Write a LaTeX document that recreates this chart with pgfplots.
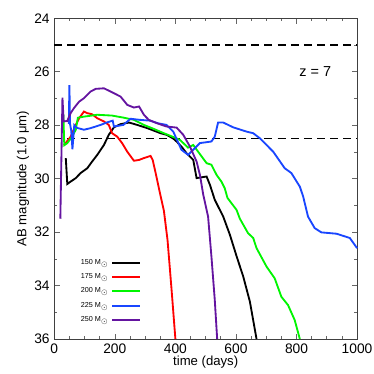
\documentclass[border=0pt]{standalone}
\usepackage{pgfplots}
\pgfplotsset{compat=1.18}
\usepackage{fontspec}
\setmainfont{Liberation Sans}

\definecolor{cgreen}{RGB}{0,245,0}
\definecolor{cblue}{RGB}{25,70,255}
\definecolor{cpurple}{RGB}{100,20,160}

\begin{document}
\begin{tikzpicture}
  \begin{axis}[
    scale only axis,
    width=8.10cm, height=8.58cm,
    xmin=0, xmax=1000,
    ymin=24, ymax=36,
    y dir=reverse,
    xtick={0,200,...,1000},
    ytick={24,26,...,36},
    minor x tick num=3,
    minor y tick num=1,
    tick pos=both,
    tick align=inside,
    major tick length=0.14cm,
    minor tick length=0.08cm,
    axis line style={black!75, line width=0.5pt},
    every tick/.style={black!60, line width=0.5pt},
    /pgf/number format/assume math mode=true,
    /pgf/number format/1000 sep={},
    tick label style={font=\fontsize{10.5}{12}\selectfont},
    xlabel={time (days)},
    ylabel={AB magnitude (1.0 μm)},
    label style={font=\fontsize{10}{12}\selectfont},
    xlabel style={yshift=5pt},
    ylabel style={yshift=-3pt},
    clip=false,
    legend plot pos=right,
    legend cell align=right,
    legend image code/.code={\draw[#1] (0cm,0cm) -- (0.75cm,0cm);},
    legend style={at={(0.288,0.258)}, anchor=north east, draw=none, fill=none,
      font=\fontsize{5.5}{6}\selectfont, row sep=1.6pt, inner sep=0pt},
  ]

  % limits
  \addplot[forget plot, black, line width=1.4pt, dash pattern=on 6pt off 4pt] coordinates {(0,25) (1000,25)};
  \addplot[forget plot, black, line width=1.4pt, dash pattern=on 6pt off 4pt] coordinates {(0,28.5) (1000,28.5)};

  % 150
  \addplot[black, line width=1.4pt] coordinates {
    (38,29.23)(43,30.2)(54,30.11)(71,29.98)(87,29.79)(109,29.61)(125,29.36)(142,29.11)
    (164,28.74)(180,28.36)(197,28.08)(219,27.96)(247,27.9)(274,27.99)(307,28.11)(351,28.3)
    (371,28.36)(393,28.5)(404,28.61)(420,28.8)(437,29.05)(459,29.3)(470,29.98)(503,29.92)
    (514,30.23)(530,30.79)(558,31.42)(580,32.1)(602,32.9)(624,33.66)(646,34.6)(668,36)
  };
  \addlegendentry{150 M$_\odot$}

  % 175
  \addplot[red, line width=1.4pt] coordinates {
    (32,28.75)(54,28.43)(71,27.99)(82,27.74)(98,27.49)(109,27.55)(125,27.59)(142,27.74)
    (164,27.86)(180,27.99)(191,28.3)(208,28.43)(224,28.67)(241,28.99)(263,29.33)(280,29.3)
    (296,29.23)(318,29.15)(325,29.3)(335,29.8)(349,30.54)(362,31.2)(374,32.29)(387,34.1)(400,36)
  };
  \addlegendentry{175 M$_\odot$}

  % 200
  \addplot[cgreen, line width=1.4pt] coordinates {
    (30,27.6)(33,28.75)(43,28.67)(59,28.43)(71,28.17)(78,27.72)(98,27.68)(142,27.61)
    (191,27.64)(230,27.72)(263,27.8)(296,27.99)(329,28.14)(362,28.3)(382,28.39)(415,28.55)
    (442,28.84)(459,28.74)(475,28.99)(503,29.42)(519,29.48)(536,29.86)(552,30.11)(563,30.36)
    (572,30.72)(602,31.17)(613,31.5)(640,32.04)(657,32.22)(668,32.6)(701,33.29)(728,33.73)
    (750,34.42)(772,34.73)(794,35.29)(811,36)
  };
  \addlegendentry{200 M$_\odot$}

  % 225
  \addplot[cblue, line width=1.4pt] coordinates {
    (48,27.95)(50,26.5)(52,27.95)(56,28.2)(60,28.9)(66,28.0)(75,28.1)(98,28.17)(120,28.11)
    (153,27.99)(173,27.9)(193,27.83)(197,28.05)(228,27.99)(252,27.76)(283,27.8)(316,27.83)
    (343,27.93)(371,27.99)(393,28.24)(420,28.92)(442,29.11)(459,28.92)(481,28.67)(519,28.61)
    (530,28.43)(541,27.9)(558,27.9)(591,28.08)(635,28.24)(657,28.3)(679,28.49)(723,28.99)
    (761,29.61)(783,29.79)(811,30.3)(822,30.67)(838,31.42)(860,31.85)(882,32.01)(932,32.06)
    (976,32.22)(1000,32.6)
  };
  \addlegendentry{225 M$_\odot$}

  % 250
  \addplot[cpurple, line width=1.4pt] coordinates {
    (20,31.5)(27,26.97)(31,27.86)(43,27.84)(54,27.55)(65,27.36)(82,27.12)(98,26.99)
    (120,26.74)(137,26.64)(164,26.62)(186,26.74)(219,26.93)(241,27.24)(263,27.34)(280,27.3)
    (296,27.61)(312,27.8)(340,27.93)(371,28.05)(404,28.09)(426,28.36)(448,28.8)(470,29.36)
    (481,29.86)(492,30.6)(508,31.42)(519,32.91)(530,34.53)(538,36)
  };
  \addlegendentry{250 M$_\odot$}

  \node[font=\fontsize{11}{12}\selectfont] at (axis cs:862,26) {z = 7};
  \end{axis}
  \path (current axis.south west) ++(-1.452cm,-0.936cm) coordinate (bbA);
  \path (current axis.north east) ++(0.447cm,0.489cm) coordinate (bbB);
  \pgfresetboundingbox
  \path (bbA) rectangle (bbB);
\end{tikzpicture}
\end{document}
